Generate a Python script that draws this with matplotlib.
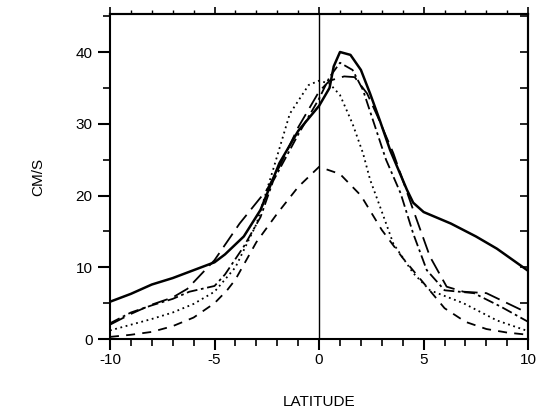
import matplotlib.pyplot as plt
import numpy as np
from matplotlib.ticker import MultipleLocator

plt.rcParams['font.family'] = ['Liberation Sans', 'DejaVu Sans']
plt.rcParams['axes.unicode_minus'] = False

# solid (thick)
lat_solid = [-10, -9, -8, -7, -6, -5, -4.5, -3.6, -2.8, -1.9, -1, 0, 0.5, 0.7, 1, 1.5, 2, 2.44, 2.9, 3.4, 4.2, 4.5, 5, 6.3, 7.5, 8.5, 10]
v_solid = [5.2, 6.3, 7.6, 8.5, 9.6, 10.7, 11.8, 14.3, 18, 24.5, 29, 32.5, 35, 38, 40, 39.6, 37.5, 34.2, 30.5, 26.3, 20.8, 19, 17.7, 16.1, 14.3, 12.6, 9.5]

# dashed (low peak at equator)
lat_dash = [-10, -9, -8, -7, -6, -5, -4.4, -4, -3, -2, -1, 0, 1, 2, 3, 4, 5, 6, 7, 8, 9, 10]
v_dash = [0.3, 0.6, 1.0, 1.8, 3.0, 5.0, 6.8, 8.3, 13.5, 17.5, 21.2, 24, 23, 20, 15.2, 11.3, 7.8, 4.3, 2.4, 1.4, 0.9, 0.6]

# dotted
lat_dot = [-10, -9, -8, -7, -6, -5, -4, -3, -2.2, -1.4, -0.5, 0, 0.5, 1, 1.6, 2.1, 2.44, 2.92, 3.55, 4.5, 5.3, 6.9, 8.5, 10]
v_dot = [1.2, 2.0, 2.8, 3.7, 4.9, 6.6, 10, 16, 23.6, 31.4, 35.4, 36, 35.6, 34, 30, 25.9, 22.2, 18.4, 13.3, 9.2, 6.8, 5.0, 2.6, 1.1]

# long dash
lat_ldash = [-10, -9, -8, -7, -6.3, -5, -3.8, -2.5, -1.9, -1, 0, 0.5, 1.2, 1.7, 2.3, 2.8, 3.55, 4.5, 5.3, 6.1, 6.9, 8, 9, 10]
v_ldash = [2.0, 3.5, 4.8, 5.8, 7.0, 11, 16.1, 20.8, 24, 29.5, 34.5, 36, 36.6, 36.5, 34.2, 31, 25.9, 18, 11.5, 7.3, 6.6, 6.4, 5.0, 3.6]

# dash-dot
lat_dd = [-10, -9, -8, -7, -6.2, -5, -4.5, -3.6, -2.8, -2.2, -1, 0, 0.5, 1, 1.6, 2.1, 3.2, 3.9, 4.5, 5.15, 6, 7.4, 8.7, 10]
v_dd = [2.2, 3.7, 4.7, 5.6, 6.6, 7.4, 9, 12.9, 17, 22, 28.5, 33.5, 36.5, 38.5, 37.5, 34.7, 25, 20.3, 14.7, 9.6, 6.8, 6.4, 4.5, 2.4]

fig = plt.figure(figsize=(5.39, 4.11), dpi=100)
ax = fig.add_axes([0.204, 0.175, 0.776, 0.791])

ax.axvline(0, color='black', lw=1.0)
ax.plot(lat_solid, v_solid, color='black', lw=1.8, ls='-', solid_joinstyle='round')
ax.plot(lat_dash, v_dash, color='black', lw=1.3, ls=(0, (5, 4)))
ax.plot(lat_dot, v_dot, color='black', lw=1.3, ls=(0, (1, 2)))
ax.plot(lat_ldash, v_ldash, color='black', lw=1.3, ls=(0, (9, 4)))
ax.plot(lat_dd, v_dd, color='black', lw=1.3, ls=(0, (6, 2, 1.5, 2)))

ax.set_xlim(-10, 10)
ax.set_ylim(0, 45.3)
ax.set_xticks([-10, -5, 0, 5, 10])
ax.set_yticks([0, 10, 20, 30, 40])
ax.xaxis.set_minor_locator(MultipleLocator(1))
ax.yaxis.set_minor_locator(MultipleLocator(5))
ax.tick_params(which='major', direction='out', length=9, width=1.5, labelsize=11)
ax.tick_params(which='minor', direction='out', length=5, width=1.2)
ax.tick_params(axis='x', which='major', length=8, pad=2)
for s in ax.spines.values():
    s.set_linewidth(1.5)

top = ax.secondary_xaxis('top')
top.set_xticks([-10, -5, 0, 5, 10])
top.xaxis.set_minor_locator(MultipleLocator(1))
top.tick_params(which='major', direction='out', length=5, width=1.2, labeltop=False)
top.tick_params(which='minor', direction='out', length=3, width=1.0)
top.spines['top'].set_linewidth(1.5)

right = ax.secondary_yaxis('right')
right.yaxis.set_major_locator(MultipleLocator(5))
right.tick_params(which='major', direction='in', length=6, width=1.2, labelright=False)
right.spines['right'].set_linewidth(1.5)

ax.set_xlabel('LATITUDE', fontsize=11, labelpad=20)
ax.set_ylabel('CM/S', fontsize=11, labelpad=22)

fig.savefig('out.png', dpi=100)
